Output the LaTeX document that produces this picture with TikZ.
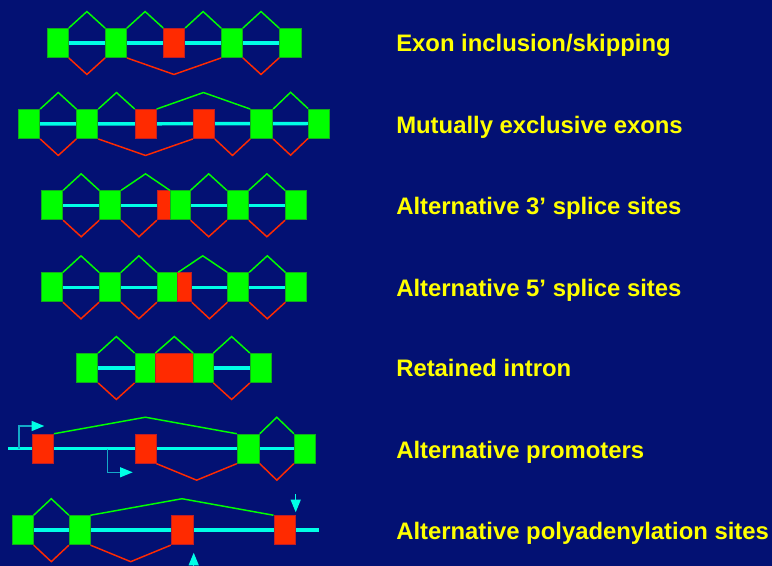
\documentclass[tikz,border=0pt]{standalone}
\usepackage{fontspec}
\setmainfont{Liberation Sans}
\usetikzlibrary{calc,arrows.meta}

\definecolor{slidebg}{RGB}{3,17,115}
\definecolor{exgreen}{RGB}{0,255,0}
\definecolor{exgreenedge}{RGB}{20,170,30}
\definecolor{exred}{RGB}{255,42,0}
\definecolor{exrededge}{RGB}{190,30,40}
\definecolor{intcyan}{RGB}{0,255,230}
\definecolor{promstem}{RGB}{20,170,200}
\definecolor{labyellow}{RGB}{255,255,0}

\pgfdeclarelayer{bg}
\pgfdeclarelayer{lines}
\pgfsetlayers{bg,lines,main}

\tikzset{
  gx/.style={rectangle, fill=exgreen, draw=exgreenedge, line width=0.7pt,
             minimum width=15.75pt, minimum height=21.75pt, inner sep=0pt},
  rx/.style={rectangle, fill=exred, draw=exrededge, line width=0.7pt,
             minimum width=15.75pt, minimum height=21.75pt, inner sep=0pt},
  intron/.style={draw=intcyan, line width=2.6pt},
  gjoin/.style={draw=exgreen, line width=1.1pt},
  rjoin/.style={draw=exred, line width=1.1pt},
  promarrow/.style={draw=promstem, line width=1pt,
             -{Triangle[length=9.5pt,width=7.5pt,color=intcyan]}},
  polyarrow/.style={draw=intcyan, line width=1pt,
             -{Triangle[length=9.5pt,width=7.5pt,color=intcyan]}},
  lbl/.style={text=labyellow, font=\bfseries\fontsize{17.9pt}{20pt}\selectfont,
              inner sep=0pt, anchor=base west}
}

% splice joins: green above, red below, apex halfway between the two exons
\newcommand\joinup[2]{\draw[gjoin] (#1.north east) -- ($(#1.north east)!.5!(#2.north west)+(0,-16.5)$) -- (#2.north west);}
\newcommand\joindown[2]{\draw[rjoin] (#1.south east) -- ($(#1.south east)!.5!(#2.south west)+(0,16.5)$) -- (#2.south west);}

\begin{document}
\begin{tikzpicture}[x=0.75pt,y=-0.75pt]
\begin{pgfonlayer}{bg}
  \fill[slidebg] (0,0) rectangle (772,566);
\end{pgfonlayer}
\path[use as bounding box] (0,0) rectangle (772,566);

% ---------- exon inclusion / skipping ----------
\node[gx] (a1) at (57.8,43) {};
\node[gx] (a2) at (116,43) {};
\node[rx] (a3) at (174.2,43) {};
\node[gx] (a4) at (232,43) {};
\node[gx, minimum width=16.5pt] (a5) at (290.5,43) {};
\begin{pgfonlayer}{lines}\draw[intron] (a1) -- (a5);\end{pgfonlayer}
\joinup{a1}{a2}\joinup{a2}{a3}\joinup{a3}{a4}\joinup{a4}{a5}
\joindown{a1}{a2}\joindown{a2}{a4}\joindown{a4}{a5}
\node[lbl] (t1) at (396,51.7) {Exon inclusion/skipping};

% ---------- mutually exclusive exons ----------
\node[gx] (b1) at (29.2,124) {};
\node[gx] (b2) at (87.3,124) {};
\node[rx] (b3) at (145.7,124) {};
\node[rx] (b4) at (203.8,124) {};
\node[gx, minimum width=16.5pt] (b5) at (261.7,124) {};
\node[gx] (b6) at (319,123.5) {};
\begin{pgfonlayer}{lines}\draw[intron] (b1) -- (b6);\end{pgfonlayer}
\joinup{b1}{b2}\joinup{b2}{b3}\joinup{b3}{b5}\joinup{b5}{b6}
\joindown{b1}{b2}\joindown{b2}{b4}\joindown{b4}{b5}\joindown{b5}{b6}
\node[lbl] (t2) at (396,134) {Mutually exclusive exons};

% ---------- alternative 3' splice sites ----------
\node[gx] (c1) at (52.2,205.3) {};
\node[gx] (c2) at (110.2,205.3) {};
\node[rx, minimum width=9.75pt] (c3) at (163.8,205.3) {};
\node[gx, minimum width=14.8pt] (c4) at (180.2,205.3) {};
\node[gx] (c5) at (237.8,205.3) {};
\node[gx] (c6) at (296,205.3) {};
\begin{pgfonlayer}{lines}\draw[intron] (c1) -- (c6);\end{pgfonlayer}
\joinup{c1}{c2}\joinup{c2}{c4}\joinup{c4}{c5}\joinup{c5}{c6}
\joindown{c1}{c2}\joindown{c2}{c3}\joindown{c4}{c5}\joindown{c5}{c6}
\node[lbl] (t3) at (396,214.3) {Alternative 3’ splice sites};

% ---------- alternative 5' splice sites ----------
\node[gx] (d1) at (52,287.3) {};
\node[gx] (d2) at (110,287.3) {};
\node[gx, minimum width=15.3pt] (d3) at (167.5,287.3) {};
\node[rx, minimum width=10.2pt] (d4) at (184.5,287.3) {};
\node[gx] (d5) at (238.3,287.3) {};
\node[gx] (d6) at (296.3,287.3) {};
\begin{pgfonlayer}{lines}\draw[intron] (d1) -- (d6);\end{pgfonlayer}
\joinup{d1}{d2}\joinup{d2}{d3}\joinup{d3}{d5}\joinup{d5}{d6}
\joindown{d1}{d2}\joindown{d2}{d3}\joindown{d4}{d5}\joindown{d5}{d6}
\node[lbl] (t4) at (396,296.3) {Alternative 5’ splice sites};

% ---------- retained intron ----------
\node[gx] (e1) at (87.2,368) {};
\node[gx, minimum width=15pt] (e2) at (145,368) {};
\node[rx, minimum width=29pt] (e3) at (174.3,368) {};
\node[gx, minimum width=14.5pt] (e4) at (203.3,368) {};
\node[gx] (e5) at (260.8,368) {};
\begin{pgfonlayer}{lines}\draw[intron] (e1) -- (e5);\end{pgfonlayer}
\joinup{e1}{e2}\joinup{e2}{e4}\joinup{e4}{e5}
\joindown{e1}{e2}\joindown{e4}{e5}
\node[lbl] (t5) at (396,377) {Retained intron};

% ---------- alternative promoters ----------
\node[rx] (f1) at (43,448.7) {};
\node[rx] (f2) at (145.5,448.7) {};
\node[gx, minimum width=16.5pt] (f3) at (248.3,448.7) {};
\node[gx] (f4) at (304.8,448.7) {};
\coordinate (fstart) at (8,448.7);
\begin{pgfonlayer}{lines}\draw[intron] (fstart) -- (f4);\end{pgfonlayer}
\joinup{f1}{f3}\joinup{f3}{f4}
\joindown{f2}{f3}\joindown{f3}{f4}
\coordinate (pr1) at (19,448.7);
\coordinate (pr1tip) at (44.3,426);
\coordinate (pr2) at (107.7,448.7);
\coordinate (pr2tip) at (132.7,472.3);
\draw[promarrow] (pr1) |- (pr1tip);
\draw[promarrow] (pr2) |- (pr2tip);
\node[lbl] (t6) at (396,458.3) {Alternative promoters};

% ---------- alternative polyadenylation sites ----------
\node[gx] (h1) at (22.7,530.2) {};
\node[gx, minimum width=15.5pt] (h2) at (79.7,530.2) {};
\node[rx, minimum width=16.5pt] (h3) at (182.3,530.2) {};
\node[rx, minimum width=16.25pt] (h4) at (284.8,530.2) {};
\coordinate (hend) at (318.7,530.2);
\begin{pgfonlayer}{lines}\draw[intron] (h1) -- (hend);\end{pgfonlayer}
\joinup{h1}{h2}\joinup{h2}{h4}
\joindown{h1}{h2}\joindown{h2}{h3}
\coordinate (pa1) at (295.7,494.3);
\coordinate (pa1tip) at (295.7,512.3);
\coordinate (pa2) at (193.7,570);
\coordinate (pa2tip) at (193.7,552.7);
\draw[polyarrow] (pa1) -- (pa1tip);
\draw[polyarrow] (pa2) -- (pa2tip);
\node[lbl] (t7) at (396,539.3) {Alternative polyadenylation sites};
\end{tikzpicture}
\end{document}
